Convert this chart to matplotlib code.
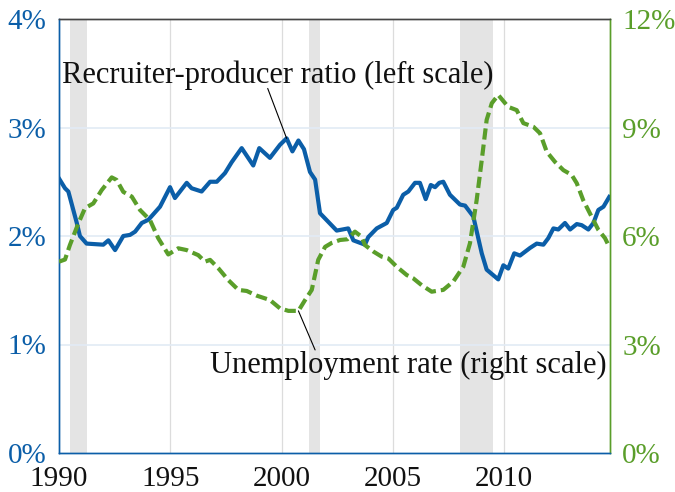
import matplotlib
matplotlib.use("Agg")
import matplotlib.pyplot as plt

# Recruiter-producer ratio (left scale, %)
rp_years = [1990.00, 1990.27, 1990.42, 1990.80, 1990.94, 1991.24, 1991.99, 1992.22, 1992.52, 1992.89,
            1993.19, 1993.42, 1993.72, 1994.02, 1994.54, 1994.99, 1995.21, 1995.74, 1995.96, 1996.41,
            1996.79, 1997.09, 1997.46, 1997.76, 1998.21, 1998.73, 1999.00, 1999.48, 1999.93, 2000.23,
            2000.49, 2000.76, 2001.01, 2001.28, 2001.51, 2001.73, 2002.48, 2003.00, 2003.23, 2003.75,
            2003.90, 2004.28, 2004.73, 2005.02, 2005.18, 2005.47, 2005.70, 2006.00, 2006.22, 2006.48,
            2006.71, 2006.90, 2007.09, 2007.27, 2007.57, 2008.02, 2008.25, 2008.62, 2009.00, 2009.22,
            2009.74, 2009.97, 2010.19, 2010.46, 2010.72, 2011.17, 2011.47, 2011.77, 2011.99, 2012.22,
            2012.44, 2012.74, 2012.97, 2013.27, 2013.49, 2013.79, 2014.02, 2014.24, 2014.47, 2014.73]
rp_values = [2.53, 2.44, 2.41, 2.12, 2.00, 1.93, 1.92, 1.96, 1.87, 2.00,
             2.01, 2.04, 2.12, 2.15, 2.27, 2.45, 2.35, 2.49, 2.44, 2.41,
             2.50, 2.50, 2.58, 2.68, 2.81, 2.65, 2.81, 2.72, 2.84, 2.90,
             2.78, 2.88, 2.80, 2.59, 2.52, 2.21, 2.05, 2.07, 1.96, 1.92,
             1.99, 2.07, 2.12, 2.24, 2.26, 2.38, 2.41, 2.49, 2.49, 2.34,
             2.47, 2.45, 2.49, 2.50, 2.38, 2.29, 2.28, 2.18, 1.84, 1.69,
             1.60, 1.73, 1.70, 1.84, 1.82, 1.89, 1.93, 1.92, 1.98, 2.07,
             2.06, 2.12, 2.06, 2.11, 2.10, 2.06, 2.12, 2.24, 2.27, 2.36]

# Unemployment rate (right scale, %)
ur_years = [1990.00, 1990.27, 1990.49, 1990.87, 1991.17, 1991.54, 1991.92, 1992.37, 1992.59, 1992.89,
            1993.27, 1993.64, 1994.09, 1994.46, 1994.91, 1995.36, 1995.74, 1996.26, 1996.56, 1996.79,
            1997.16, 1997.61, 1998.06, 1998.44, 1998.89, 1999.48, 1999.93, 2000.31, 2000.76, 2001.06,
            2001.36, 2001.65, 2001.96, 2002.26, 2002.63, 2002.96, 2003.30, 2003.60, 2003.75, 2004.13,
            2004.50, 2004.80, 2005.18, 2005.63, 2005.92, 2006.30, 2006.75, 2007.05, 2007.27, 2007.72,
            2008.17, 2008.47, 2008.77, 2009.00, 2009.22, 2009.45, 2009.74, 2010.19, 2010.57, 2010.87,
            2011.32, 2011.62, 2011.92, 2012.29, 2012.67, 2013.04, 2013.27, 2013.56, 2013.94, 2014.24,
            2014.54, 2014.73]
ur_values = [5.29, 5.35, 5.75, 6.35, 6.77, 6.90, 7.27, 7.62, 7.55, 7.22,
             7.09, 6.72, 6.44, 5.94, 5.49, 5.66, 5.61, 5.47, 5.29, 5.34,
             5.11, 4.78, 4.51, 4.48, 4.35, 4.23, 4.00, 3.93, 3.93, 4.23,
             4.51, 5.34, 5.70, 5.81, 5.89, 5.91, 6.12, 5.98, 5.75, 5.57,
             5.43, 5.38, 5.15, 4.92, 4.83, 4.64, 4.46, 4.49, 4.51, 4.74,
             5.15, 5.80, 6.99, 8.10, 9.21, 9.67, 9.90, 9.57, 9.48, 9.12,
             9.02, 8.84, 8.33, 8.05, 7.82, 7.69, 7.46, 6.99, 6.53, 6.17,
             5.94, 5.70]

recession_starts = [1990.5, 2001.25, 2008.0]
recession_ends = [1991.25, 2001.75, 2009.5]

left_ticks = [0, 1, 2, 3, 4]
left_labels = ["0%", "1%", "2%", "3%", "4%"]
right_ticks = [0, 3, 6, 9, 12]
right_labels = ["0%", "3%", "6%", "9%", "12%"]
x_ticks = [1990, 1995, 2000, 2005, 2010]
x_labels = ["1990", "1995", "2000", "2005", "2010"]

BLUE = "#0b5ea8"
GREEN = "#5a9e2a"
FONT = "Liberation Serif"
FS = 21

plt.rcParams["font.family"] = [FONT, "DejaVu Serif"]

fig = plt.figure(figsize=(6.75, 4.92), dpi=100)
ax = fig.add_axes([59 / 675, 1 - 453 / 492, (609.7 - 59) / 675, (453 - 19) / 492])
ax2 = ax.twinx()

for s, e in zip(recession_starts, recession_ends):
    ax.axvspan(s, e, color="#e4e4e4", lw=0, zorder=0)

for t in x_ticks[1:]:
    ax.axvline(t, color="#dcdcdc", lw=0.9, zorder=0.5)
for t in left_ticks[1:-1]:
    ax.axhline(t, color="#e2ebf5", lw=1.2, zorder=0.5)

ax.plot(rp_years, rp_values, color=BLUE, lw=3.0, zorder=3, solid_joinstyle="round")
ax2.plot(ur_years, ur_values, color=GREEN, lw=3.0, dashes=(2.7, 1.2), zorder=3)

ax.set_xlim(1990, 2014.75)
ax.set_ylim(0, 4)
ax2.set_ylim(0, 12)

ax.set_xticks(x_ticks)
ax.set_xticklabels(x_labels, fontsize=FS, color="#111111")
ax.set_yticks(left_ticks)
ax.set_yticklabels(left_labels, fontsize=FS, color=BLUE)
ax2.set_yticks(right_ticks)
ax2.set_yticklabels(right_labels, fontsize=FS, color=GREEN)

ax.tick_params(axis="x", length=0, pad=9)
ax.tick_params(axis="y", length=0, pad=9)
ax2.tick_params(axis="y", length=0, pad=9)

for a in (ax, ax2):
    a.spines["left"].set_color(BLUE)
    a.spines["bottom"].set_color(BLUE)
    a.spines["right"].set_color(GREEN)
    a.spines["top"].set_color("#444444")
    for sp in a.spines.values():
        sp.set_linewidth(1.0)

# annotations
ax.text(1990.12, 3.41, "Recruiter-producer ratio (left scale)", fontsize=22,
        ha="left", va="baseline", color="#111111", zorder=5)
ax.annotate("", xy=(rp_years[29], rp_values[29]), xytext=(1999.38, 3.36),
            arrowprops=dict(arrowstyle="-", lw=0.8, color="black", shrinkA=0, shrinkB=0), zorder=5)

ax2.text(1996.79, 0.737 * 3, "Unemployment rate (right scale)", fontsize=22,
         ha="left", va="baseline", color="#111111", zorder=5)
ax2.annotate("", xy=(ur_years[28], ur_values[28]), xytext=(2001.51, 0.95 * 3),
             arrowprops=dict(arrowstyle="-", lw=0.8, color="black", shrinkA=0, shrinkB=0), zorder=5)

fig.savefig("out.png", dpi=100)
